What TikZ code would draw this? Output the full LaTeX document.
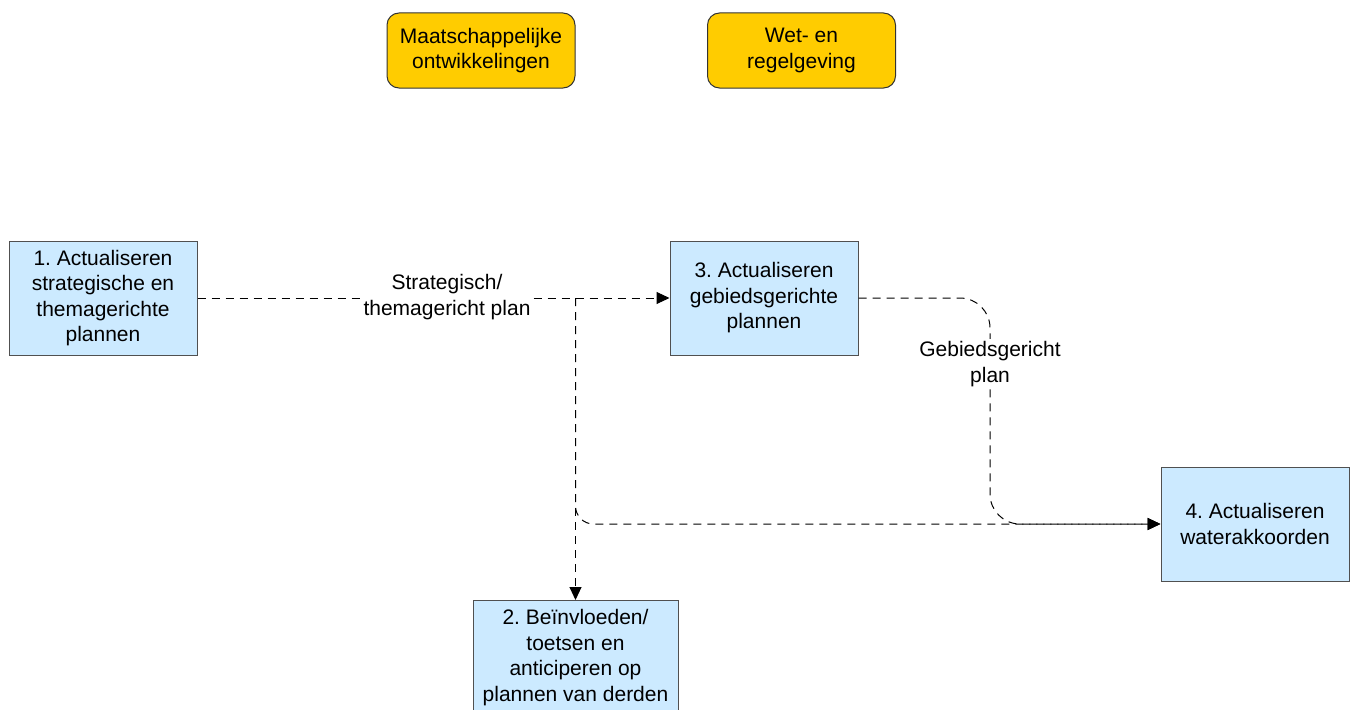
\documentclass[tikz,border=0pt]{standalone}
\usepackage{fontspec}
\setmainfont{Liberation Sans}
\frenchspacing
\usetikzlibrary{arrows.meta}
\definecolor{boxblue}{RGB}{204,234,255}
\definecolor{boxyellow}{RGB}{255,204,0}
\definecolor{edgegray}{RGB}{80,80,80}
\begin{document}
\begin{tikzpicture}[x=1pt,y=-1pt,
  font=\fontsize{21}{25.5}\selectfont,
  proc/.style={draw=edgegray, line width=1pt, fill=boxblue, minimum width=188pt, minimum height=114pt, align=center, inner sep=2pt},
  ext/.style={draw=black!80, line width=1pt, fill=boxyellow, rounded corners=12pt, minimum width=188pt, minimum height=75pt, align=center},
  conn/.style={draw=black, line width=1pt, dash pattern=on 8pt off 6pt, -{Triangle[length=13pt,width=12pt]}},
  lbl/.style={fill=white, align=center, inner sep=2pt}
]
\useasboundingbox (0,0) rectangle (1356,709);

\node[ext] (m) at (481,50.5) {Maatschappelijke\\ontwikkelingen};
\node[ext] (w) at (801.5,50.5) {Wet- en\\regelgeving};

\node[proc] (b1) at (103,298) {1. Actualiseren\\strategische en\\themagerichte\\plannen};
\node[proc] (b3) at (764,298) {3. Actualiseren\\gebiedsgerichte\\plannen};
\node[proc] (b4) at (1255,524) {4. Actualiseren\\waterakkoorden};
\node[proc, minimum width=205pt, minimum height=114pt, anchor=north] (b2) at (575.5,600) {2. Beïnvloeden/\\toetsen en\\anticiperen op\\plannen van derden};

\coordinate (j1) at (575.5,298);
\coordinate (c1) at (990,524);

\draw[conn] (b1.east) -- (b3.west);
\node[lbl] (l1) at (447,297) {Strategisch/\\themagericht plan};

\draw[conn] (j1) -- (b2.north);
\draw[conn, rounded corners=18pt] (j1) |- (b4.west);
\draw[conn, rounded corners=30pt] (b3.east) -| (c1) -- (b4.west);
\node[lbl] (l2) at (990,364) {Gebiedsgericht\\plan};
\end{tikzpicture}
\end{document}
